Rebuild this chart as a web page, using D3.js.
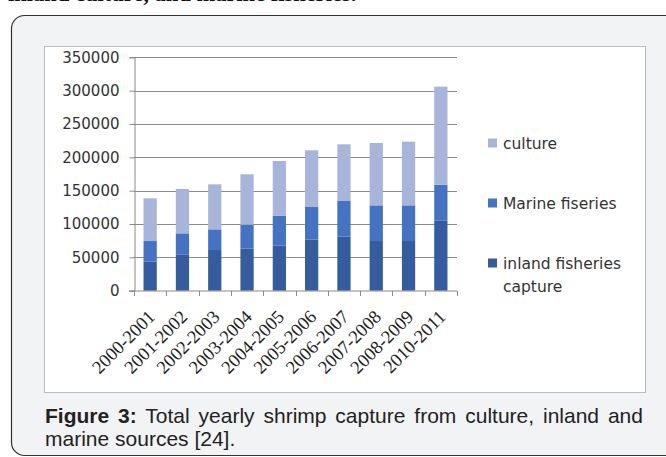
<!DOCTYPE html>
<html>
<head>
<meta charset="utf-8">
<script src="https://cdn.jsdelivr.net/npm/d3@7"></script>
<style>
  body { margin: 0; background: #fff; }
  svg { display: block; }
</style>
</head>
<body>
<script>
var width = 666;
var height = 457;

// data (tonnes per season)
var years = ["2000-2001", "2001-2002", "2002-2003", "2003-2004", "2004-2005",
             "2005-2006", "2006-2007", "2007-2008", "2008-2009", "2010-2011"];
var inland = [43500, 54500, 61000, 63000, 67500, 76500, 81000, 74500, 74500, 105500];
var marine = [31000, 31500, 31000, 36000, 45000, 49000, 53500, 53500, 53500, 53500];
var culture = [64000, 66500, 67500, 75500, 82000, 85000, 85000, 93500, 95500, 147000];
var yTicks = [0, 50000, 100000, 150000, 200000, 250000, 300000, 350000];
var seriesNames = ["inland", "marine", "culture"];
var legendLabels = [["culture"], ["Marine fiseries"], ["inland fisheries", "capture"]];
var colors = {inland: "#345c9f", marine: "#4573c4", culture: "#a7b5da"};

var holder = d3.select("body")
    .append("svg")
    .attr("width", width)
    .attr("height", height);

// cut-off line of the text above the figure
holder.append("text")
    .attr("x", 8)
    .attr("y", 1)
    .style("font-family", "Liberation Serif")
    .style("font-size", "22.5px")
    .style("font-weight", "bold")
    .style("fill", "#111")
    .text("inland culture, and marine fisheries.");

// figure frame
holder.append("rect")
    .attr("x", 11.5)
    .attr("y", 15.5)
    .attr("width", 670)
    .attr("height", 440)
    .attr("rx", 13)
    .style("fill", "#f2f3f5")
    .style("stroke", "#333")
    .style("stroke-width", 1.2);

// chart box
holder.append("rect")
    .attr("x", 44.5)
    .attr("y", 46.5)
    .attr("width", 601)
    .attr("height", 346)
    .style("fill", "#fff")
    .style("stroke", "#bdbdbd");

var x = d3.scaleBand()
    .domain(years)
    .range([134, 457])
    .paddingInner(0.59)
    .paddingOuter(0.295);

var y = d3.scaleLinear()
    .domain([0, 350000])
    .range([290.7, 57.3]);

// gridlines
holder.append("g")
    .selectAll("line")
    .data(yTicks.slice(1))
    .enter().append("line")
    .attr("x1", 134)
    .attr("x2", 457)
    .attr("y1", function(d) { return Math.round(y(d)) + 0.5; })
    .attr("y2", function(d) { return Math.round(y(d)) + 0.5; })
    .style("stroke", "#8a8a8a");

// stacked bars
var table = years.map(function(d, i) {
    return {year: d, inland: inland[i], marine: marine[i], culture: culture[i]};
});
var stack = d3.stack().keys(seriesNames)(table);

holder.append("g")
    .selectAll("g")
    .data(stack)
    .enter().append("g")
    .style("fill", function(d) { return colors[d.key]; })
    .selectAll("rect")
    .data(function(d) { return d; })
    .enter().append("rect")
    .attr("x", function(d) { return x(d.data.year); })
    .attr("width", x.bandwidth())
    .attr("y", function(d) { return y(d[1]); })
    .attr("height", function(d) { return y(d[0]) - y(d[1]); });

// y axis
var yAxis = holder.append("g")
    .attr("transform", "translate(134.5,0)")
    .call(d3.axisLeft(y).tickValues(yTicks).tickSize(5).tickPadding(10).tickFormat(d3.format("d")));
yAxis.selectAll("line, path").style("stroke", "#8a8a8a");
yAxis.selectAll("text")
    .style("font-family", "DejaVu Sans")
    .style("font-size", "15px")
    .style("fill", "#333");

// x axis: line + ticks at the band boundaries
var edge = (x.step() - x.bandwidth()) / 2;
var bounds = years.map(function(d) { return x(d) - edge; }).concat([457]);
var xg = holder.append("g");
xg.append("line")
    .attr("x1", 129).attr("x2", 457)
    .attr("y1", 291).attr("y2", 291)
    .style("stroke", "#8a8a8a");
xg.selectAll("line.tick")
    .data(bounds)
    .enter().append("line")
    .attr("class", "tick")
    .attr("x1", function(d) { return Math.round(d) + 0.5; })
    .attr("x2", function(d) { return Math.round(d) + 0.5; })
    .attr("y1", 291).attr("y2", 296)
    .style("stroke", "#8a8a8a");

xg.selectAll("text")
    .data(years)
    .enter().append("text")
    .attr("text-anchor", "end")
    .attr("transform", function(d) {
        return "translate(" + (x(d) + x.bandwidth() / 2 + 6) + ",318) rotate(-45)";
    })
    .style("font-family", "Liberation Serif")
    .style("font-size", "18.5px")
    .style("fill", "#222")
    .text(function(d) { return d; });

// legend
var legendKeys = ["culture", "marine", "inland"];
var legendY = [143, 203, 263];
var legend = holder.append("g")
    .selectAll("g")
    .data(legendKeys)
    .enter().append("g")
    .attr("transform", function(d, i) { return "translate(488," + legendY[i] + ")"; });
legend.append("rect")
    .attr("x", 0).attr("y", -4.5)
    .attr("width", 9).attr("height", 9)
    .style("fill", function(d) { return colors[d]; });
legend.each(function(d, i) {
    var g = d3.select(this);
    legendLabels[i].forEach(function(t, j) {
        g.append("text")
            .attr("x", 15)
            .attr("y", j * 23)
            .attr("dy", "0.36em")
            .style("font-family", "DejaVu Sans")
            .style("font-size", "15.5px")
            .style("fill", "#333")
            .text(t);
    });
});

// caption
var cap1 = holder.append("text")
    .attr("x", 45)
    .attr("y", 423)
    .style("font-family", "Liberation Sans")
    .style("font-size", "21px")
    .style("fill", "#222");
cap1.append("tspan").style("font-weight", "bold").text("Figure 3:");
cap1.append("tspan").text(" Total yearly shrimp capture from culture, inland and");
var natural = cap1.node().getComputedTextLength();
var spaces = 9;
cap1.style("word-spacing", Math.max(0, (643 - 45 - natural) / spaces) + "px");

holder.append("text")
    .attr("x", 45)
    .attr("y", 446)
    .style("font-family", "Liberation Sans")
    .style("font-size", "21px")
    .style("fill", "#222")
    .text("marine sources [24].");
</script>
</body>
</html>
